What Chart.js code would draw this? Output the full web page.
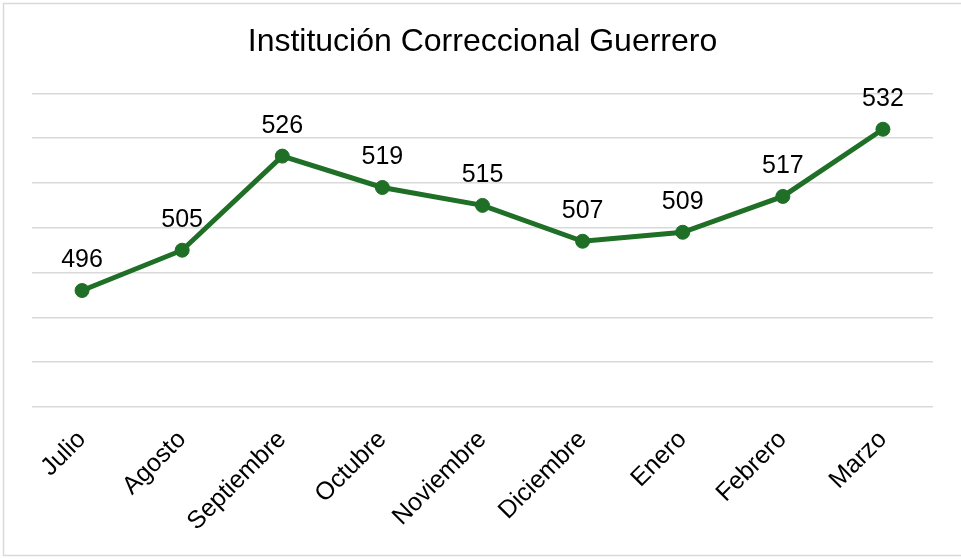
<!DOCTYPE html>
<html>
<head>
<meta charset="utf-8">
<style>
  body { margin: 0; background: #fff; }
  canvas { display: block; }
</style>
<script src="https://cdn.jsdelivr.net/npm/chart.js@4.4.1/dist/chart.umd.min.js"></script>
</head>
<body>
<canvas id="grafica" width="961" height="559"></canvas>
<script>
// Datos
const meses = ['Julio', 'Agosto', 'Septiembre', 'Octubre', 'Noviembre', 'Diciembre', 'Enero', 'Febrero', 'Marzo'];
const valores = [496, 505, 526, 519, 515, 507, 509, 517, 532];
const titulo = 'Institución Correccional Guerrero';
const ejeMin = 470;
const ejeMax = 540;
const ejePaso = 10;

const fuente = '"Liberation Sans", Arial, sans-serif';
const verde = '#1f6f27';

// fondo y marco
const marco = {
    id: 'marco',
    beforeDraw(chart) {
        const ctx = chart.ctx;
        ctx.save();
        ctx.fillStyle = '#fff';
        ctx.fillRect(0, 0, chart.width, chart.height);
        ctx.strokeStyle = '#d9d9d9';
        ctx.lineWidth = 1.5;
        ctx.strokeRect(3.5, 3.5, 970, 552);
        ctx.restore();
    }
};

// etiquetas de datos encima de cada punto
const etiquetas = {
    id: 'etiquetas',
    afterDatasetsDraw(chart) {
        const ctx = chart.ctx;
        const meta = chart.getDatasetMeta(0);
        ctx.save();
        ctx.font = '25px ' + fuente;
        ctx.fillStyle = '#000';
        ctx.textAlign = 'center';
        ctx.textBaseline = 'middle';
        meta.data.forEach((pt, i) => {
            ctx.fillText(valores[i], pt.x, pt.y - 30);
        });
        ctx.restore();
    }
};

new Chart(document.getElementById('grafica'), {
    type: 'line',
    data: {
        labels: meses,
        datasets: [{
            data: valores,
            borderColor: verde,
            backgroundColor: verde,
            borderWidth: 5,
            pointRadius: 7,
            pointBackgroundColor: verde,
            pointBorderColor: verde,
            pointBorderWidth: 1,
            tension: 0,
            fill: false
        }]
    },
    options: {
        responsive: false,
        animation: false,
        layout: { padding: { left: 32, right: 28, top: 0, bottom: 0 } },
        plugins: {
            legend: { display: false },
            tooltip: { enabled: false },
            title: {
                display: true,
                text: titulo,
                color: '#000',
                font: { family: fuente, size: 32, weight: 'normal' },
                padding: { top: 23, bottom: 32 }
            }
        },
        scales: {
            x: {
                offset: true,
                grid: { display: false, drawTicks: false },
                border: { display: false },
                ticks: {
                    autoSkip: false,
                    minRotation: 45,
                    maxRotation: 45,
                    padding: 18,
                    color: '#000',
                    font: { family: fuente, size: 25 }
                },
                afterFit(scale) { scale.height = 152; }
            },
            y: {
                min: ejeMin,
                max: ejeMax,
                grid: { color: '#d9d9d9', lineWidth: 1.5, drawTicks: false },
                border: { display: false },
                ticks: { display: false, stepSize: ejePaso }
            }
        }
    },
    plugins: [marco, etiquetas]
});
</script>
</body>
</html>
